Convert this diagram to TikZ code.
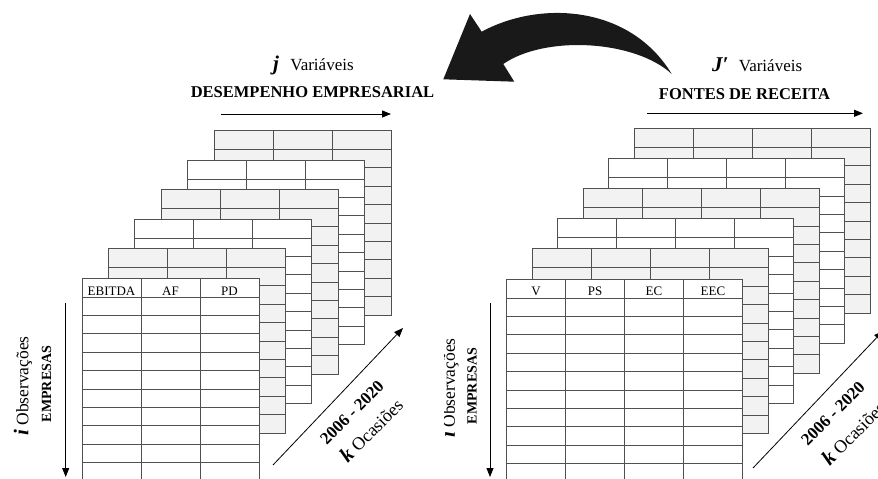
\documentclass[tikz,border=0pt]{standalone}
\usepackage{fontspec}
\setmainfont{Liberation Serif}
\usetikzlibrary{arrows.meta,positioning}
\definecolor{rule}{RGB}{80,80,80}
\definecolor{sheetgray}{RGB}{242,242,242}
\definecolor{ink}{RGB}{25,25,25}
\tikzset{
  >={Triangle[length=9pt,width=7pt]},
  axis/.style={->,line width=0.8pt,draw=black},
  head/.style={font=\fontsize{13}{15}\selectfont,inner sep=0pt,anchor=base},
  varname/.style={font=\fontsize{17}{20}\selectfont,inner sep=0pt,anchor=base},
  group/.style={font=\fontsize{16.5}{19}\selectfont\bfseries,inner sep=0pt,anchor=base},
  sym/.style={font=\fontsize{21}{24}\selectfont\bfseries\itshape,inner sep=0pt,anchor=base east},
  obs/.style={font=\fontsize{17.5}{20}\selectfont,inner sep=0pt,rotate=90},
  firms/.style={font=\fontsize{14}{16}\selectfont\bfseries,inner sep=0pt,rotate=90},
  years/.style={font=\fontsize{17}{20}\selectfont\bfseries,inner sep=0pt,rotate=45},
  times/.style={font=\fontsize{18}{20}\selectfont,inner sep=0pt,rotate=45},
  % one sheet of the panel: columns, rows, fill
  pics/sheet/.style n args={3}{code={
    \filldraw[fill=#3,draw=rule,line width=0.9pt] (0,0) rectangle ({59*#1},{19+18.4*#2});
    \foreach \r in {0,...,#2} \draw[rule,line width=0.9pt] (0,{19+18.4*\r}) -- ({59*#1},{19+18.4*\r});
    \foreach \c in {1,...,#1} \draw[rule,line width=0.9pt] ({59*\c},0) -- ({59*\c},{19+18.4*#2});
  }},
}
\begin{document}
\begin{tikzpicture}[x=1pt,y=-1pt]
  \useasboundingbox (0,0) rectangle (878,479);
  \clip (0,0) rectangle (878,479);

  % left panel: business performance
  \foreach \k/\tone in {0/sheetgray,1/white,2/sheetgray,3/white,4/sheetgray}
    \pic (left\k) at ({214-26.4*\k},{130.5+29.5*\k}) {sheet={3}{9}{\tone}};
  \pic (leftfront) at (82,278) {sheet={3}{11}{white}};
  \node[head] (ebitda) at (111.5,295) {EBITDA};
  \node[head] (af) at (170.5,295) {AF};
  \node[head] (pd) at (229.5,295) {PD};

  \node[varname] (jvar) at (322,70) {Variáveis};
  \node[sym] (jsym) at ([xshift=-11pt]jvar.base west) {j};
  \node[group] (perf) at (312.5,97.3) {DESEMPENHO EMPRESARIAL};
  \coordinate (jstart) at (221,114);
  \coordinate (jend) at (391,114);
  \draw[axis] (jstart) -- (jend);

  \node[obs] (iobs) at (23,386) {{\fontsize{21}{24}\selectfont\bfseries\itshape i} Observações};
  \node[firms] (firms) at (46.5,384) {EMPRESAS};
  \coordinate (istart) at (65.7,303);
  \coordinate (iend) at (65.7,477);
  \draw[axis] (istart) -- (iend);

  \coordinate (kstart) at (273,465);
  \coordinate (kend) at (403,328);
  \draw[axis] (kstart) -- (kend);
  \node[years] (span) at (352,412.5) {2006 - 2020};
  \node[times] (kocc) at (371,430) {{\fontsize{21}{24}\selectfont\bfseries\itshape k} Ocasiões};

  % right panel: revenue sources
  \foreach \k/\tone in {0/sheetgray,1/white,2/sheetgray,3/white,4/sheetgray}
    \pic (right\k) at ({634-25.5*\k},{128.5+30.1*\k}) {sheet={4}{9}{\tone}};
  \pic (rightfront) at (506.5,279) {sheet={4}{11}{white}};
  \node[head] (v) at (536,295) {V};
  \node[head] (ps) at (595,295) {PS};
  \node[head] (ec) at (654,295) {EC};
  \node[head] (eec) at (713,295) {EEC};

  \node[varname] (jpvar) at (770.5,71.7) {Variáveis};
  \node[sym] (jpsym) at ([xshift=-10pt]jpvar.base west) {J′};
  \node[group] (rev) at (744.5,99.3) {FONTES DE RECEITA};
  \coordinate (jpstart) at (647,113.3);
  \coordinate (jpend) at (863,113.3);
  \draw[axis] (jpstart) -- (jpend);

  \begin{scope}
    \clip (444,0) rectangle (878,479);
    \node[obs] (iobsr) at (449.5,388) {{\fontsize{21}{24}\selectfont\bfseries\itshape i} Observações};
    \node[firms] (firmsr) at (472,386) {EMPRESAS};
  \end{scope}
  \coordinate (irstart) at (490,303);
  \coordinate (irend) at (490,477);
  \draw[axis] (irstart) -- (irend);

  \coordinate (krstart) at (753,468);
  \coordinate (krend) at (883,331);
  \draw[axis] (krstart) -- (krend);
  \node[years] (spanr) at (833,413.5) {2006 - 2020};
  \node[times] (koccr) at (853,433) {{\fontsize{21}{24}\selectfont\bfseries\itshape k} Ocasiões};

  % curved arrow from right panel to left panel
  \fill[ink] (443.3,79.3) -- (470,14) -- (481.7,31.7)
    .. controls (540,0) and (630,5) .. (671.7,74)
    .. controls (635,40) and (545,35) .. (503.3,64)
    -- (514.3,81.7) -- cycle;
\end{tikzpicture}
\end{document}
